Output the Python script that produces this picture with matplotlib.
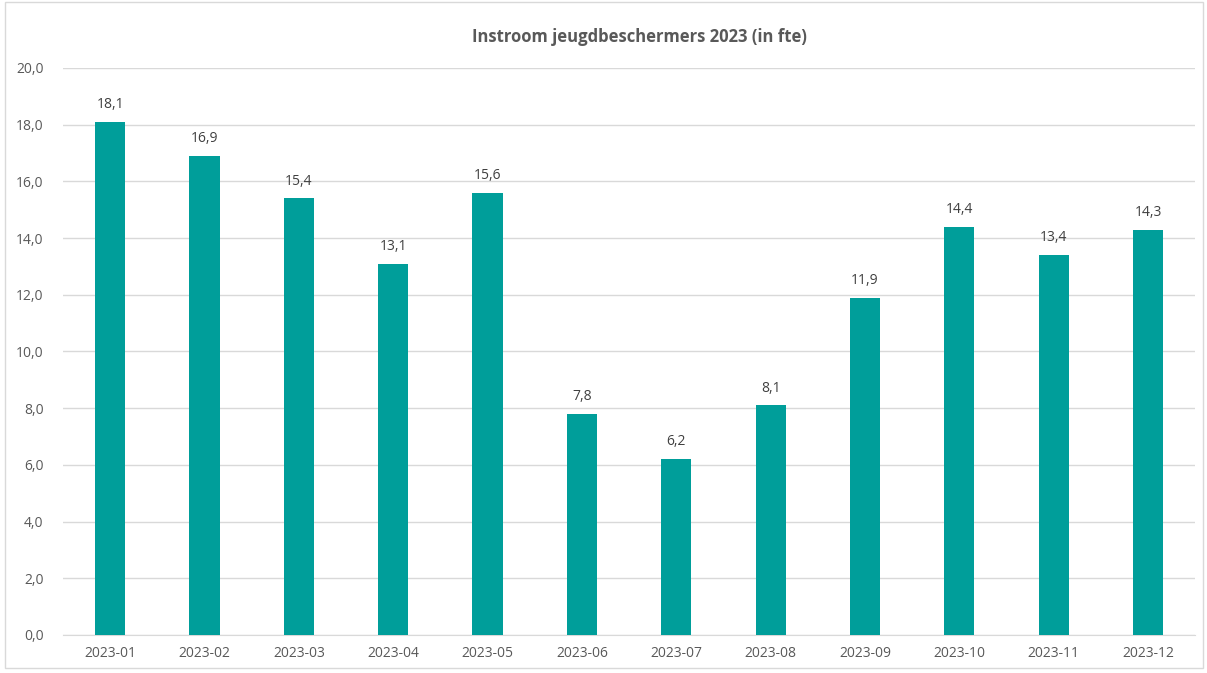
import matplotlib.pyplot as plt
from matplotlib.patches import Rectangle

maanden = ['2023-01', '2023-02', '2023-03', '2023-04', '2023-05', '2023-06',
           '2023-07', '2023-08', '2023-09', '2023-10', '2023-11', '2023-12']
instroom = [18.1, 16.9, 15.4, 13.1, 15.6, 7.8, 6.2, 8.1, 11.9, 14.4, 13.4, 14.3]
y_ticks = [0, 2, 4, 6, 8, 10, 12, 14, 16, 18, 20]

grijs = '#595959'
plt.rcParams['font.family'] = ['Open Sans', 'DejaVu Sans']

fig = plt.figure(figsize=(12.07, 6.73), dpi=100)
ax = fig.add_axes([0.0522, 0.0565, 0.938, 0.8425])

x = range(len(maanden))
bars = ax.bar(x, instroom, width=0.32, color='#009E9A', zorder=3)
for b, v in zip(bars, instroom):
    ax.annotate(f"{v:.1f}".replace('.', ','), (b.get_x() + b.get_width() / 2, v),
                xytext=(0, 7), textcoords='offset points', ha='center', va='bottom',
                fontsize=10, color='#404040')

ax.set_xlim(-0.5, len(maanden) - 0.5)
ax.set_ylim(0, 20)
ax.set_yticks(y_ticks)
ax.set_yticklabels([f"{t:.1f}".replace('.', ',') for t in y_ticks])
ax.set_xticks(list(x))
ax.set_xticklabels(maanden)
ax.tick_params(axis='both', length=0, colors=grijs, labelsize=10)
ax.tick_params(axis='y', pad=14)
ax.tick_params(axis='x', pad=8)
ax.yaxis.grid(True, color='#D9D9D9', linewidth=1, zorder=0)
for s in ['top', 'right', 'left']:
    ax.spines[s].set_visible(False)
ax.spines['bottom'].set_color('#D9D9D9')

fig.text(0.53, 0.945, 'Instroom jeugdbeschermers 2023 (in fte)', ha='center', va='center',
         fontsize=12, fontweight='bold', color=grijs)

fig.patches.append(Rectangle((0.004, 0.007), 0.993, 0.99, transform=fig.transFigure,
                             fill=False, edgecolor='#D9D9D9', linewidth=1))

fig.savefig('out.png', dpi=100)
